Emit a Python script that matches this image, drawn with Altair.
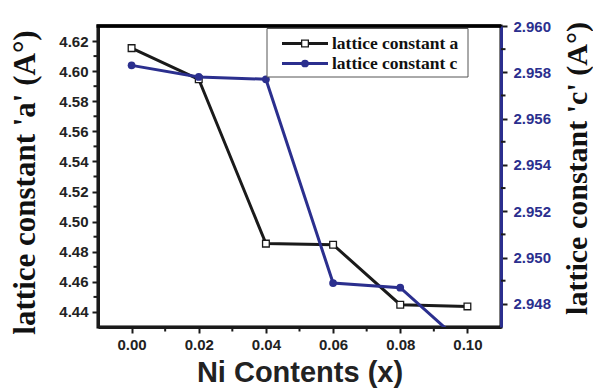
import altair as alt
import pandas as pd

ni = [0.00, 0.02, 0.04, 0.06, 0.08, 0.10]
lat_a = [4.6153, 4.5946, 4.4854, 4.4847, 4.4448, 4.4437]
lat_c = [2.9583, 2.9578, 2.9577, 2.9489, 2.9487, 2.9461]
series = ["lattice constant a", "lattice constant c"]

x_major = [0.00, 0.02, 0.04, 0.06, 0.08, 0.10]
x_minor = [0.01, 0.03, 0.05, 0.07, 0.09]
a_major = [4.44, 4.46, 4.48, 4.50, 4.52, 4.54, 4.56, 4.58, 4.60, 4.62]
a_minor = [4.45, 4.47, 4.49, 4.51, 4.53, 4.55, 4.57, 4.59, 4.61]
c_major = [2.948, 2.950, 2.952, 2.954, 2.956, 2.958, 2.960]
c_minor = [2.949, 2.951, 2.953, 2.955, 2.957, 2.959]

NAVY = "#2b2f8e"
BLACK = "#1a1a1a"
W, H = 403, 301

df = pd.DataFrame({"x": ni, "a": lat_a, "c": lat_c})

x_scale = alt.Scale(domain=[-0.01, 0.11], nice=False, zero=False)
a_scale = alt.Scale(domain=[4.43, 4.63], nice=False, zero=False)
c_scale = alt.Scale(domain=[2.947, 2.960], nice=False, zero=False)

x_axis = alt.Axis(
    title="Ni Contents (x)",
    values=x_major,
    format=".2f",
    tickSize=6,
    tickWidth=2,
    tickColor=BLACK,
    domainColor=BLACK,
    domainWidth=3,
    labelPadding=4,
    labelFont="Liberation Sans",
    labelFontWeight="bold",
    labelFontSize=15,
    labelColor="#222222",
    labelOverlap=False,
    titleFont="Liberation Sans",
    titleFontWeight="bold",
    titleFontSize=29,
    titleColor="#222222",
    titleX=201.5,
    titleY=54,
    titleBaseline="alphabetic",
    titleAlign="center",
    grid=False,
)

left_axis = alt.Axis(
    title="lattice constant 'a' (A°)",
    orient="left",
    values=a_major,
    format=".2f",
    tickSize=6,
    tickWidth=2,
    tickColor=BLACK,
    domainColor=BLACK,
    domainWidth=3,
    labelPadding=4,
    labelFont="Liberation Sans",
    labelFontWeight="bold",
    labelFontSize=15,
    labelColor="#222222",
    labelOverlap=False,
    titleFont="Liberation Serif",
    titleFontWeight="bold",
    titleFontSize=31,
    titleColor="#111111",
    titleAngle=270,
    titleX=-73,
    titleY=156,
    titleAlign="center",
    titleBaseline="middle",
    grid=False,
)

right_axis = alt.Axis(
    title="lattice constant 'c' (A°)",
    orient="right",
    values=c_major,
    format=".3f",
    tickSize=6,
    tickWidth=2,
    tickColor=BLACK,
    domainColor=NAVY,
    domainWidth=3,
    labelPadding=6,
    labelFont="Liberation Sans",
    labelFontWeight="bold",
    labelFontSize=15,
    labelColor=NAVY,
    labelOverlap=False,
    titleFont="Liberation Serif",
    titleFontWeight="bold",
    titleFontSize=30,
    titleColor="#111111",
    titleAngle=270,
    titleX=76,
    titleY=142,
    titleAlign="center",
    titleBaseline="middle",
    grid=False,
)


def X(field):
    return alt.X(field, scale=x_scale, axis=x_axis)


def YA(field):
    return alt.Y(field, scale=a_scale, axis=left_axis)


def YC(field):
    return alt.Y(field, scale=c_scale, axis=right_axis)


base = alt.Chart(df)

line_a = base.mark_line(color=BLACK, strokeWidth=3, clip=True).encode(x=X("x:Q"), y=YA("a:Q"))
pts_a = base.mark_point(shape="square", filled=True, fill="white", stroke=BLACK,
                        strokeWidth=1.3, size=45, opacity=1, clip=True).encode(x=X("x:Q"), y=YA("a:Q"))
minor_a = alt.Chart(pd.DataFrame({"a": a_minor})).mark_rule(color=BLACK, strokeWidth=2).encode(
    y=YA("a:Q"), x=alt.value(-4.5), x2=alt.value(0)
)
layer_a = alt.layer(line_a, pts_a, minor_a)

line_c = base.mark_line(color=NAVY, strokeWidth=3, clip=True).encode(x=X("x:Q"), y=YC("c:Q"))
pts_c = base.mark_point(shape="circle", filled=True, color=NAVY, size=60, opacity=1,
                        clip=True).encode(x=X("x:Q"), y=YC("c:Q"))
minor_c = alt.Chart(pd.DataFrame({"c": c_minor})).mark_rule(color=BLACK, strokeWidth=2).encode(
    y=YC("c:Q"), x=alt.value(W), x2=alt.value(W + 4.5)
)
layer_c = alt.layer(line_c, pts_c, minor_c)

data_chart = alt.layer(layer_a, layer_c).resolve_scale(y="independent")

minor_x = alt.Chart(pd.DataFrame({"x": x_minor})).mark_rule(color=BLACK, strokeWidth=2).encode(
    x=X("x:Q"), y=alt.value(H), y2=alt.value(H + 4.5)
)

# Legend (drawn manually to show line + marker symbols) and top frame edge
leg_df = pd.DataFrame({"name": series, "row": [0, 1]})
leg = alt.Chart(leg_df)
top_border = leg.mark_rule(color="#000000", strokeWidth=3.5, opacity=1).encode(
    x=alt.value(-1.5), x2=alt.value(W), y=alt.value(0), y2=alt.value(0)
).transform_filter("datum.row == 0")
box = leg.mark_rect(fill="white", stroke="#555555", strokeWidth=1).encode(
    x=alt.value(169), x2=alt.value(370), y=alt.value(2.5), y2=alt.value(51)
).transform_filter("datum.row == 0")

rows = []
ys = [17.5, 37.5]
colors = [BLACK, NAVY]
for i in range(2):
    f = f"datum.row == {i}"
    rows.append(leg.mark_rule(color=colors[i], strokeWidth=3).encode(
        x=alt.value(184), x2=alt.value(230), y=alt.value(ys[i])).transform_filter(f))
    if i == 0:
        rows.append(leg.mark_point(shape="square", filled=True, fill="white", stroke=BLACK,
                                   strokeWidth=1.3, size=45, opacity=1).encode(
            x=alt.value(207), y=alt.value(ys[i])).transform_filter(f))
    else:
        rows.append(leg.mark_point(shape="circle", filled=True, color=NAVY, size=60, opacity=1).encode(
            x=alt.value(207), y=alt.value(ys[i])).transform_filter(f))
    rows.append(leg.mark_text(font="Liberation Serif", fontWeight="bold", fontSize=17.5,
                              align="left", baseline="middle", color="#111111").encode(
        x=alt.value(234), y=alt.value(ys[i] + 0.5), text="name:N").transform_filter(f))

legend = alt.layer(box, top_border, *rows)

chart = alt.layer(data_chart, minor_x, legend).properties(
    width=W,
    height=H,
    background="white",
    autosize=alt.AutoSizeParams(type="none"),
    padding={"left": 98, "top": 26, "right": 92, "bottom": 62},
).configure_view(
    stroke="#000000", strokeWidth=3
)

chart.save("out.html", embed_options={"renderer": "svg", "actions": False})
